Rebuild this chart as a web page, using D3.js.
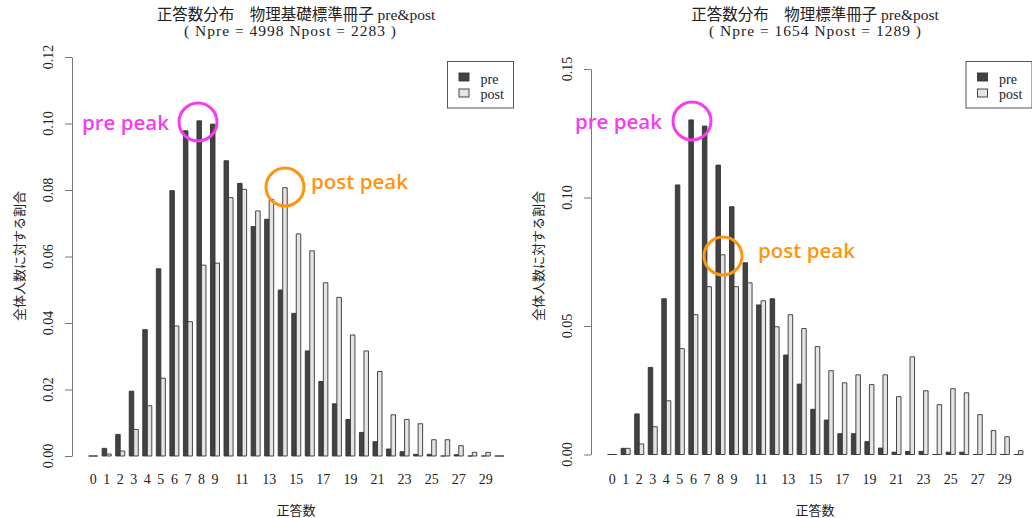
<!DOCTYPE html>
<html>
<head>
<meta charset="utf-8">
<script src="https://cdn.jsdelivr.net/npm/d3@7"></script>
<style>
  body { margin: 0; background: #fff; }
  svg { display: block; }
  .serif { font-family: "Liberation Serif", "Noto Sans CJK JP", serif; }
</style>
</head>
<body>
<svg id="chart" width="1032" height="518"></svg>
<script>
// score categories (0..30 correct answers)
var scores = [0,1,2,3,4,5,6,7,8,9,10,11,12,13,14,15,16,17,18,19,20,21,22,23,24,25,26,27,28,29,30];
// labels R actually printed (others dropped for overlap)
var shownLabels = [0,1,2,3,4,5,6,7,8,9,11,13,15,17,19,21,23,25,27,29];
var seriesNames = ['pre', 'post'];

// 物理基礎標準冊子
var leftPre = [0,0.0023,0.0065,0.0195,0.038,0.0563,0.0798,0.0978,0.1008,0.0998,0.0888,0.082,0.069,0.0712,0.0499,0.0429,0.0316,0.0224,0.0157,0.011,0.0071,0.0043,0.0021,0.0013,0.0005,0.0005,0,0.0004,0,0,0];
var leftPost = [0,0.0006,0.0015,0.008,0.0151,0.0234,0.0391,0.0404,0.0574,0.058,0.0777,0.0802,0.0737,0.0772,0.0807,0.0668,0.0617,0.0521,0.0477,0.0364,0.0316,0.0254,0.0124,0.011,0.0097,0.0049,0.0049,0.0031,0.0011,0.0011,0];
var leftTicks = [0, 0.02, 0.04, 0.06, 0.08, 0.10, 0.12];

// 物理標準冊子
var rightPre = [0,0.0024,0.0158,0.0339,0.0606,0.1049,0.1302,0.1278,0.1126,0.0964,0.0746,0.0582,0.0606,0.0387,0.0274,0.0176,0.0134,0.0081,0.0081,0.005,0.0025,0.0009,0.0012,0.0012,0,0.0009,0.0009,0,0,0,0];
var rightPost = [0,0.0024,0.0041,0.0108,0.0209,0.0412,0.0544,0.0653,0.0777,0.0653,0.0668,0.0598,0.0497,0.0544,0.049,0.042,0.0326,0.0279,0.031,0.0272,0.031,0.0225,0.038,0.0248,0.0194,0.0256,0.024,0.0155,0.0093,0.0069,0.0015];
var rightTicks = [0, 0.05, 0.10, 0.15];

var svg = d3.select('#chart');

function drawPanel(o) {
  var g = svg.append('g');
  // barplot units: each bar 1 wide, 1 unit gap before each group
  var x = d3.scaleLinear().domain([-2.68, 96.68]).range([o.left, o.left + 448.5]);
  var y = d3.scaleLinear().domain([0, o.ymax]).range([o.base, o.top]);
  var fills = ['#424242', '#e4e4e4'];

  scores.forEach(function (s, i) {
    [o.pre[i], o.post[i]].forEach(function (v, k) {
      var x0 = x(3 * i + 1 + k), x1 = x(3 * i + 2 + k);
      var p = d3.path();
      p.moveTo(x0, y(0)); p.lineTo(x1, y(0)); p.lineTo(x1, y(v)); p.lineTo(x0, y(v)); p.closePath();
      g.append('path').attr('d', p.toString())
        .attr('fill', fills[k]).attr('stroke', '#333').attr('stroke-width', 0.9);
    });
  });

  // y axis
  var ax = g.append('g').attr('transform', 'translate(' + o.left + ',0)')
    .call(d3.axisLeft(y).tickValues(o.ticks).tickSize(7).tickSizeOuter(0).tickFormat(''));
  ax.selectAll('path, line').attr('stroke', '#777');
  g.selectAll('.ylab').data(o.ticks).enter().append('text')
    .attr('class', 'serif')
    .attr('transform', function (d) { return 'translate(' + (o.left - 19) + ',' + y(d) + ') rotate(-90)'; })
    .attr('text-anchor', 'middle').attr('font-size', 14).attr('fill', '#222')
    .text(function (d) { return d3.format('.2f')(d); });

  // x labels under group centres
  g.selectAll('.xlab').data(shownLabels).enter().append('text')
    .attr('class', 'serif')
    .attr('x', function (d) { return x(3 * scores.indexOf(d) + 2); })
    .attr('y', 484).attr('text-anchor', 'middle').attr('font-size', 14).attr('fill', '#222')
    .text(function (d) { return d; });

  var cx = o.left + 224;
  g.append('text').attr('x', cx).attr('y', 515).attr('text-anchor', 'middle')
    .attr('font-family', 'Noto Sans CJK JP').attr('font-size', 13).attr('fill', '#222').text('正答数');
  g.append('text').attr('transform', 'translate(' + (o.left - 48) + ',' + 256 + ') rotate(-90)')
    .attr('text-anchor', 'middle').attr('font-family', 'Noto Sans CJK JP').attr('font-size', 13)
    .attr('fill', '#222').text('全体人数に対する割合');

  // title
  g.append('text').attr('class', 'serif').attr('x', cx).attr('y', 20).attr('text-anchor', 'middle')
    .attr('font-size', 15.5).attr('fill', '#222').text(o.title);
  g.append('text').attr('class', 'serif').attr('x', cx + o.sub_dx).attr('y', 36).attr('text-anchor', 'middle')
    .attr('font-size', 15.5).attr('fill', '#222').attr('xml:space', 'preserve')
    .attr('textLength', 212).attr('lengthAdjust', 'spacing').text(o.subtitle);

  // legend
  var lg = g.append('g').attr('transform', 'translate(' + o.legX + ',61.5)');
  lg.append('rect').attr('width', 66).attr('height', 46.5).attr('fill', '#fff').attr('stroke', '#555');
  seriesNames.forEach(function (n, k) {
    lg.append('rect').attr('x', 11.5).attr('y', 11.5 + k * 16).attr('width', 10).attr('height', 8)
      .attr('fill', fills[k]).attr('stroke', '#333').attr('stroke-width', 0.9);
    lg.append('text').attr('class', 'serif').attr('x', 33).attr('y', 22 + k * 15)
      .attr('font-size', 14).attr('fill', '#222').text(n);
  });

  // annotations
  o.notes.forEach(function (a) {
    g.append('circle').attr('cx', a.cx).attr('cy', a.cy).attr('r', 19)
      .attr('fill', 'none').attr('stroke', a.color).attr('stroke-width', 3);
    g.append('text').attr('x', a.tx).attr('y', a.ty).attr('font-family', 'Open Sans')
      .attr('font-weight', 600).attr('font-size', 20.5).attr('fill', a.color).text(a.text);
  });
}

drawPanel({
  left: 72, base: 456, top: 57, ymax: 0.12, ticks: leftTicks,
  pre: leftPre, post: leftPost, legX: 447.5, sub_dx: -6,
  title: '正答数分布　物理基礎標準冊子 pre&post',
  subtitle: '( Npre = 4998 Npost = 2283 )',
  notes: [
    { text: 'pre peak', color: '#f53cf0', cx: 198, cy: 122, tx: 82, ty: 130 },
    { text: 'post peak', color: '#ff9410', cx: 285, cy: 187, tx: 311, ty: 189 }
  ]
});

drawPanel({
  left: 591, base: 454.5, top: 69, ymax: 0.15, ticks: rightTicks,
  pre: rightPre, post: rightPost, legX: 966, sub_dx: 0,
  title: '正答数分布　物理標準冊子 pre&post',
  subtitle: '( Npre = 1654 Npost = 1289 )',
  notes: [
    { text: 'pre peak', color: '#f53cf0', cx: 692, cy: 121, tx: 575, ty: 129 },
    { text: 'post peak', color: '#ff9410', cx: 723, cy: 256, tx: 758, ty: 258 }
  ]
});
</script>
</body>
</html>
